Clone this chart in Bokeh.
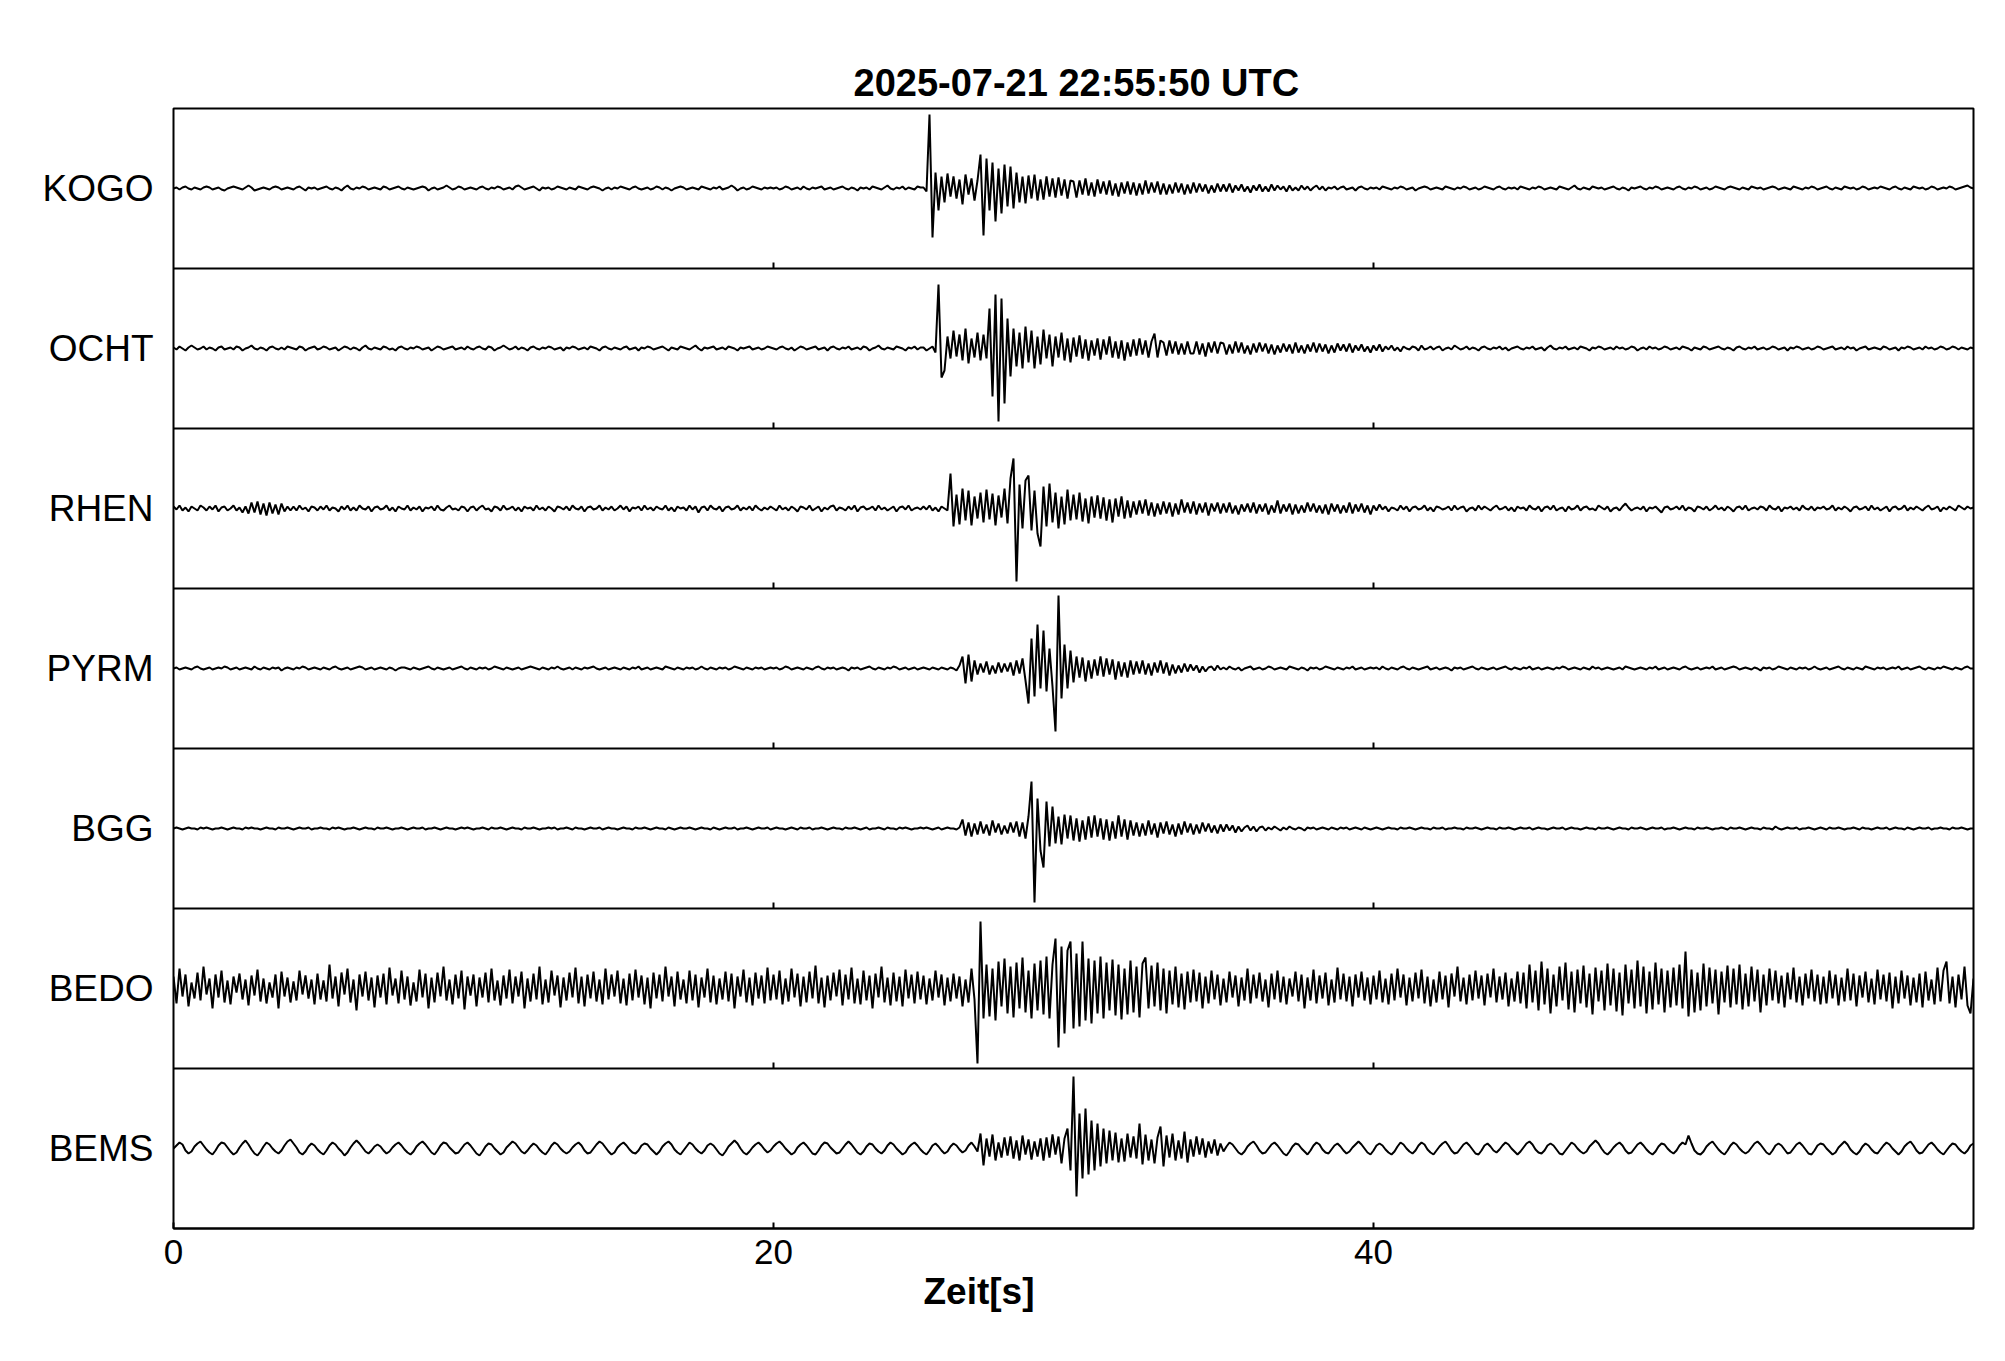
from bokeh.plotting import figure
from bokeh.models import Range1d, FixedTicker, Span, Title
from bokeh.embed import file_html
from bokeh.resources import INLINE
import numpy as np

TITLE = "2025-07-21  22:55:50 UTC"
XLABEL = "Zeit[s]"
STATIONS = ["KOGO", "OCHT", "RHEN", "PYRM", "BGG", "BEDO", "BEMS"]
X_TICKS = [0, 20, 40]
T_MAX = 60
DT = 0.1          # seconds between samples
PANEL_UNITS = 160  # amplitude units spanning one panel's height

KOGO = [
0,1,-1,1,2,0,-1,1,0,-1, 1,2,1,-1,0,1,-1,-2,0,1, 2,1,0,-1,1,3,1,-2,-1,0, 1,0,-1,1,2,1,-1,0,1,0, -1,1,2,0,-2,1,0,1,-1,0,
1,2,0,-1,1,0,-2,1,3,0, -1,1,0,2,1,-1,0,1,0,-1, 2,1,-1,0,1,2,0,-1,1,0, -1,0,1,2,1,-2,0,1,-1,0, 1,3,1,-1,0,2,1,-1,0,1,
0,-1,1,2,0,-1,1,0,2,1, -1,0,1,-1,2,3,1,-1,0,1, 2,0,-2,1,0,1,-1,0,2,1, 0,-1,1,0,-1,2,1,0,-1,1, 2,1,0,-2,0,1,-1,1,0,2,
1,0,-1,1,2,0,-1,0,1,-1, 0,2,1,-1,1,0,-2,0,1,2, 1,-1,0,1,0,-1,2,1,0,-1, 1,0,2,-1,0,1,3,1,-2,0, 1,-1,0,2,1,0,-1,1,0,1,
0,1,-1,0,2,1,-1,0,1,-1, 2,0,-1,1,0,1,2,-1,0,1, -1,0,1,2,0,-1,1,0,-2,1, 0,1,-1,2,1,0,-1,1,3,0, -1,1,0,2,-1,1,0,-1,2,1,
1,-3,74,-49,16,-22,12,-14,15,-8, 12,-10,9,-16,14,-6,10,-12,8,34, -47,30,-22,26,-33,20,-25,24,-18,22, -20,16,-14,12,-15,13,-10,14,-12,9, -11,12,-8,10,-9,11,-7,9,-10,8,
7,-9,8,-6,10,-7,6,-8,9,-5, 7,-6,8,-7,5,-8,6,-5,7,-6, 6,-7,5,-6,8,-5,6,-4,7,-6, 5,-6,4,-5,6,-4,5,-6,4,-5, 6,-4,5,-3,4,-5,3,-4,5,-3,
4,-3,5,-4,3,-2,4,-3,2,-4, 3,-2,4,-3,2,-3,4,-2,3,-1, 2,-3,3,-2,1,-2,3,-1,2,-2, 1,3,-1,2,-2,1,0,2,-1,1, 2,-1,0,1,-2,1,2,0,-1,1,
0,1,-1,2,1,0,-1,1,0,2, 1,-1,0,1,-2,0,1,2,1,-1, 0,1,0,-1,2,1,0,-1,1,0, 2,1,-1,0,1,-1,0,2,1,0, -1,1,2,0,-1,1,0,1,-1,2,
1,0,-1,1,0,2,1,-1,0,1, 0,-1,2,1,0,-1,1,3,0,-1, 1,0,-1,2,1,0,1,-1,0,1, 2,0,-1,1,0,-2,1,0,1,2, 0,-1,1,0,2,1,-1,0,1,0,
-1,1,2,0,-1,1,0,2,1,-1, 0,1,-1,0,2,1,0,-1,1,2, 1,0,-1,1,0,-1,2,1,0,1, -1,0,1,2,1,-1,0,1,0,-1, 2,1,0,-1,1,0,2,1,-1,0,
1,2,0,-1,1,0,-1,2,1,0, 1,-1,0,2,1,-1,0,1,0,2, 1,0,-1,1,2,0,-1,1,0,-1, 2,1,0,1,-1,0,2,1,-1,0, 1,0,2,1,-1,0,1,2,3,1,
0]

OCHT = [
1,-1,2,0,-2,1,3,1,-1,0, 2,-1,1,0,-2,1,2,-1,0,1, -1,2,1,-2,0,1,3,0,-1,1, 0,-2,1,2,0,-1,1,-1,2,1, 0,-1,2,1,-2,0,1,2,-1,0,
2,1,-1,0,1,-2,0,2,1,-1, 1,0,-2,1,3,0,-1,1,0,-1, 2,1,-1,0,-2,1,2,0,-1,1, 0,2,1,-1,0,1,-2,0,2,1, -1,0,1,2,-1,0,1,-1,2,0,
-1,1,2,0,-1,2,1,-2,0,1, 3,1,-1,0,2,-1,1,0,-2,1, 2,0,-1,1,0,2,1,-1,0,1, -2,1,0,2,1,-1,0,1,-1,2, 1,0,-2,1,2,0,-1,1,0,-1,
1,2,-1,0,1,-2,1,0,2,1, -1,0,1,2,0,-2,1,0,-1,2, 1,0,-1,1,3,0,-2,1,0,1, 2,-1,0,1,-1,2,1,0,-2,1, 0,1,2,-1,0,1,-1,0,2,1,
0,-1,1,2,0,-1,1,-2,0,2, 1,-1,0,1,2,-1,0,1,-2,1, 2,0,-1,1,0,2,-1,0,1,-1, 2,1,-2,0,1,3,0,-1,1,0, -1,2,1,0,-2,1,0,2,-1,1,
1,-2,0,2,-4,64,-29,-22,12,-10, 18,-8,14,-12,20,-15,10,-9,16,-12, 14,-10,40,-48,54,-73,50,-55,30,-28, 20,-18,16,-20,22,-14,18,-20,12,-16, 19,-10,14,-18,12,-9,16,-12,10,-14,
11,-8,13,-10,9,-12,8,-7,10,-11, 9,-6,12,-9,7,-10,8,-12,6,-8, 9,-7,10,-6,8,-9,7,15,-9,8, 6,-7,8,-5,7,-6,5,-6,7,-5, -5,7,-6,5,-8,6,-4,7,-5,6,
5,-6,4,-5,7,-4,6,-5,3,-6, 5,-4,6,-3,5,-5,4,-6,3,-4, 5,-3,4,-5,6,-4,3,-5,4,-3, 6,-4,5,-3,4,-5,3,-4,5,-2, 4,-3,5,-4,3,-2,4,-3,2,-4,
3,-2,4,-3,2,-1,3,-2,1,-3, 2,0,-1,2,1,-2,3,-1,0,2, -1,1,2,-2,0,1,-1,3,1,-1, 0,2,-1,1,0,-2,1,2,0,-1, 1,0,2,-1,1,-2,0,1,2,0,
-1,1,0,2,-1,0,1,-2,1,3, 0,-1,1,0,2,-1,0,1,-1,2, 1,0,-2,1,0,2,1,-1,0,1, -1,2,0,1,-1,0,2,1,-2,0, 1,-1,2,0,1,-1,0,2,1,-1,
0,1,-1,2,1,0,-2,1,0,-1, 2,1,-1,0,1,2,0,-1,1,0, -2,1,2,0,-1,1,0,2,-1,0, 1,-1,0,2,1,-1,0,1,-2,1, 0,2,1,-1,0,1,-1,0,2,1,
-1,0,1,2,-1,0,1,-1,2,0, 1,-2,0,1,2,-1,0,1,0,-1, 2,1,-1,0,1,-2,1,0,2,1, -1,0,1,-1,2,0,1,-1,0,2, 1,-1,0,2,1,-1,1,0,-1,1,
0]

RHEN = [
2,-1,3,-2,1,-3,2,0,-2,3, 1,-2,2,-1,3,-3,1,2,-2,0, 3,-2,1,-4,2,-5,6,-4,7,-6, 5,-7,6,-5,4,-6,5,-3,2,-2, 2,-2,3,-1,1,-3,2,1,-2,2,
-1,3,-2,1,0,-3,2,-1,3,-2, 1,-2,3,0,-1,2,-3,1,2,-1, 0,3,-2,1,-3,2,0,-1,3,-2, 1,-1,2,-3,1,0,2,-2,3,-1, -2,1,3,-1,0,-2,2,1,-3,1,
2,-2,1,3,-1,0,-3,2,1,-2, 3,-1,0,2,-2,1,-3,2,0,1, -2,3,-1,1,-2,2,0,-3,2,1, -1,2,-2,3,0,-1,2,-3,1,2, -1,0,3,-2,1,-1,2,-2,0,3,
-1,2,-3,1,0,2,-2,3,-1,1, -2,2,0,-1,3,-2,1,-3,2,0, 1,-2,3,-1,2,-4,1,2,-2,3, 0,-1,2,-3,1,2,-1,0,3,-2, 1,-1,2,-2,3,0,-2,1,-1,2,
0,-2,3,-1,1,-2,2,0,-3,2, 1,-1,3,-2,0,2,-3,1,-1,2, 3,-2,1,0,-2,2,-1,3,-3,1, 2,-1,0,2,-2,3,-1,1,-2,0, 2,-3,1,2,-1,3,-2,0,1,-1,
2,-1,3,-2,1,-3,2,0,-2,35, -18,14,-16,20,-12,18,-17,12,-10,16, -14,19,-11,15,-17,13,-9,20,-15,30, 50,-73,24,-20,28,33,-22,18,-25,-38, 22,-18,25,-14,16,-20,12,-16,19,-12,
14,-11,16,-13,10,-15,12,-9,13,-10, 11,-12,9,-14,10,-8,12,-10,8,-9, 7,-6,8,-5,9,-7,6,-8,5,-6, 7,-5,6,-8,5,-6,9,-4,6,-5, 7,-6,5,-4,6,-7,5,-3,6,-5,
5,-4,6,-5,3,-6,4,-3,5,-4, 6,-5,4,-3,5,-6,3,-4,8,-5, 4,-3,5,-6,4,-5,3,-4,6,-3, 5,-4,3,-5,4,-6,5,-3,4,-5, 3,-4,6,-5,4,-3,5,-4,3,-6,
3,-2,4,-1,2,-3,1,0,-2,3, -1,2,-3,1,2,-1,0,3,-2,1, -3,2,1,-1,0,2,-2,3,-1,1, 2,-3,0,1,-2,3,-1,2,0,-2, 1,3,-1,0,2,-2,1,-3,2,0,
1,-2,3,0,-1,2,-3,1,2,-1, 3,-2,0,1,-3,2,-1,0,3,-2, 1,2,-1,0,-2,3,1,-1,2,-3, 0,1,-2,2,5,1,-2,0,1,-1, 2,-3,1,0,2,-1,-4,1,2,-1,
0,2,-1,3,-2,1,0,-3,2,1, -1,2,-2,0,3,-1,1,-2,2,0, -3,1,2,-1,3,-2,0,1,-1,2, 1,-2,3,0,-1,2,-3,1,0,2, -1,1,-2,3,0,-1,2,-2,1,0,
2,-1,0,3,-2,1,-1,2,0,-3, 1,2,-1,0,2,-2,3,-1,1,-2, 0,2,-3,1,2,-1,0,3,-2,1, -1,2,0,-2,1,3,-1,0,2,-3, 1,-1,2,0,-2,3,1,-1,2,0,
1]

PYRM = [
0,1,-1,0,1,0,-1,1,2,0, -1,0,1,-1,0,1,0,2,1,-1, 0,1,-1,0,1,0,-1,2,0,-1, 1,0,-1,1,0,1,-2,0,1,0, -1,1,0,2,1,-1,0,1,0,-1,
1,0,-1,1,2,0,-1,0,1,-1, 0,1,2,1,-1,0,1,-1,0,1, 0,-1,1,0,-2,0,1,1,0,-1, 1,0,-1,0,1,2,0,-1,1,0, -1,0,1,-1,0,1,2,0,-1,1,
0,-1,1,0,1,-1,0,2,1,0, -1,1,0,-1,0,1,-1,0,1,2, 1,0,-1,1,0,-1,1,0,2,0, -1,0,1,-1,1,0,-1,1,0,1, 2,0,-1,0,1,-1,0,1,0,-1,
1,0,-1,1,0,2,-1,0,1,-1, 0,1,0,-1,2,1,0,-1,1,0, -1,1,0,1,-1,0,2,0,-1,1, 0,-1,1,0,1,-1,0,2,1,0, -1,1,0,-1,1,0,1,-1,0,1,
0,1,-1,0,2,1,-1,0,1,0, -1,1,0,-1,1,2,0,-1,1,0, 1,-1,0,1,0,-2,1,0,1,-1, 0,1,2,0,-1,1,0,-1,1,0, 2,1,-1,0,1,-1,0,1,-1,0,
1,0,-1,1,0,-1,1,0,-1,1, 0,-2,3,12,-15,14,-13,8,-6,5, -4,7,-6,3,-5,6,-4,5,-3,6, -7,8,-5,10,-12,-35,30,-28,44,-20, 38,-23,20,-18,-63,73,-30,24,-20,18,
-14,12,-9,11,-13,8,-10,9,-7,12, -8,10,-6,9,-11,7,-8,6,-9,8, -6,7,-5,8,-6,5,-7,6,-4,8, -5,6,-7,4,-5,3,-4,5,-3,4, -2,3,-4,2,-3,1,2,-2,3,-1,
1,-1,2,0,-1,1,-2,0,1,2, -1,0,1,-1,0,2,1,-1,0,1, 0,-1,2,1,0,-1,1,0,-2,1, 0,1,-1,0,2,1,0,-1,1,0, -1,1,0,2,-1,0,1,-1,0,1,
0,1,-1,2,0,-1,1,0,-1,1, 2,0,-1,1,0,-1,0,1,2,-1, 0,1,-1,0,1,0,-2,1,0,1, -1,0,1,2,0,-1,1,0,-1,0, 1,-1,0,1,2,0,-1,1,0,-1,
1,0,2,-1,0,1,-1,0,1,0, -1,1,0,2,1,-1,0,1,0,-1, 1,0,-1,2,0,1,-1,0,1,0, -1,0,1,-1,2,1,0,-1,0,1, 0,-1,1,0,2,-1,0,1,-1,0,
1,0,-1,1,2,0,-1,0,1,-1, 0,1,0,2,-1,0,1,-1,0,1, 2,1,-1,0,1,0,-1,1,0,-2, 1,0,1,-1,0,2,1,0,-1,1, 0,-1,1,0,1,-1,0,2,0,-1,
0,1,-1,0,1,2,0,-1,1,0, -1,1,0,-1,2,1,0,-1,1,0, 1,-1,0,1,0,2,-1,0,1,-1, 0,1,2,0,-1,1,0,-1,1,0, 2,1,0,-1,1,0,-1,1,2,0,
0]

BGG = [
0,1,0,-1,0,1,0,0,-1,1, 0,1,0,-1,0,0,1,0,-1,0, 1,0,0,-1,1,0,1,0,0,-1, 0,1,0,0,-1,1,0,0,1,0, -1,0,1,0,0,1,-1,0,0,1,
0,0,-1,1,0,1,0,-1,0,0, 1,0,-1,0,1,0,0,-1,1,0, 0,1,0,-1,0,0,1,0,-1,0, 1,0,0,1,-1,0,0,1,0,-1, 0,1,0,0,-1,0,1,0,1,0,
-1,0,0,1,0,-1,1,0,0,1, 0,-1,0,1,0,0,-1,1,0,0, 1,0,-1,0,0,1,0,1,-1,0, 0,1,0,-1,1,0,0,-1,0,1, 0,0,1,-1,0,1,0,0,-1,0,
1,0,0,-1,1,0,0,1,0,-1, 0,1,0,0,-1,1,0,-1,0,1, 0,0,1,0,-1,0,1,0,0,-1, 1,0,-1,0,1,0,0,1,-1,0, 0,1,0,-1,0,1,0,0,1,-1,
0,1,0,0,-1,0,1,0,-1,1, 0,0,1,-1,0,0,1,0,-1,0, 1,0,0,-1,1,0,0,1,0,-1, 0,1,-1,0,0,1,0,-1,1,0, 0,-1,1,0,1,0,-1,0,0,1,
0,1,0,-1,0,1,-1,0,1,0, 0,-1,1,9,-7,6,-8,5,-6,7, -5,4,-7,8,-4,5,-6,3,-5,6, -4,7,-8,6,-10,12,47,-74,30,-22, -39,27,-18,22,-15,12,-16,14,-10,13,
-12,10,-13,8,-11,12,-9,13,-8,10, -11,9,-12,7,-10,13,-8,9,-11,8, -7,6,-8,5,-7,8,-6,5,-9,6, -5,7,-6,4,-8,5,-6,7,-4,5, -6,4,-5,6,-3,5,-4,3,-5,4,
-3,4,-2,3,-4,2,-3,1,3,-2, 2,-3,1,2,-2,1,-1,2,0,-2, 1,-1,2,0,-1,1,0,-2,1,0, 1,-1,0,1,0,-1,1,0,-1,1, 0,1,-1,0,1,0,-1,1,0,-1,
0,1,0,-1,0,1,0,0,-1,1, 0,0,1,0,-1,0,1,0,0,-1, 1,0,0,1,-1,0,0,1,0,0, -1,1,0,0,1,0,-1,0,1,0, 0,-1,1,0,0,1,0,-1,0,1,
0,0,1,-1,0,1,0,0,-1,0, 1,0,0,1,-1,0,1,0,0,-1, 0,1,0,0,-1,1,0,0,1,0, -1,0,1,0,0,-1,1,0,0,1, 0,-1,0,1,0,0,1,-1,0,0,
1,0,-1,0,1,0,0,-1,1,0, 0,1,0,-1,0,0,1,0,-1,1, 0,0,1,0,-1,0,1,0,0,-1, 1,0,0,-1,2,0,-1,0,1,0, 0,1,-1,0,0,1,0,-1,0,1,
0,-1,1,0,0,1,0,-1,0,0, 1,0,-1,1,0,0,-1,0,1,0, 0,1,-1,0,1,0,0,-1,1,0, -1,0,1,0,0,1,-1,0,0,1, 0,0,-1,1,0,0,1,0,-1,0,
0]

BEDO = [
12,-15,20,-8,14,-18,6,-10,16,-12, 22,-6,10,-20,14,-9,18,-14,8,-16, 12,-4,15,-11,9,-17,13,-7,19,-13, 10,-15,6,-9,14,-20,17,-8,11,-14, 7,-12,18,-6,13,-10,9,-16,15,-11,
8,-13,24,-10,12,-18,16,-6,20,-14, 9,-22,14,-8,17,-12,11,-19,13,-9, 15,-16,21,-7,10,-15,18,-11,12,-17, 6,-13,19,-9,15,-20,11,-14,16,-8, 22,-12,9,-16,14,-10,18,-21,12,-7,
14,-18,11,-9,16,-14,20,-12,8,-17, 13,-10,19,-15,12,-8,17,-20,10,-13, 15,-11,22,-16,9,-14,18,-7,13,-19, 11,-12,16,-9,21,-15,12,-18,14,-10, 17,-13,9,-16,20,-11,14,-8,18,-15,
10,-17,15,-12,19,-9,13,-16,11,-20, 16,-10,14,-13,22,-8,12,-18,17,-11, 9,-15,18,-12,14,-19,11,-9,20,-14, 13,-16,10,-11,17,-13,15,-20,12,-8, 19,-14,11,-17,16,-10,13,-15,21,-12,
14,-11,18,-16,10,-13,20,-9,15,-18, 12,-14,17,-10,23,-15,11,-19,13,-12, 16,-8,19,-17,14,-11,21,-15,10,-16, 18,-12,13,-20,15,-9,22,-14,11,-17, 16,-13,12,-18,19,-10,14,-15,17,-11,
13,-16,10,-12,18,-9,14,-17,11,-13, 15,-10,12,-18,9,-14,20,-11,-75,67, -30,24,-28,20,-32,27,-18,30,-25,22, -29,26,-20,31,-24,18,-30,25,-22,28, -26,32,-30,24,50,-59,42,-45,38,47,
-40,35,-38,47,-32,30,-35,28,-25,32, -30,26,-22,29,-27,24,-31,20,-26,28, -24,22,-29,25,31,-20,23,-18,26,-22, 20,-25,18,-16,22,-19,15,-21,17,-14, 19,-13,16,-20,12,-15,18,-11,14,-17,
10,-14,17,-9,13,-18,11,-12,20,-15, 14,-10,16,-13,9,-19,15,-11,18,-14, 12,-16,10,-8,17,-13,14,-20,11,-12, 19,-15,13,-10,16,-17,9,-14,21,-11, 15,-13,12,-18,14,-9,17,-12,11,-16,
13,-11,18,-14,10,-16,15,-12,20,-9, 14,-17,11,-13,16,-10,19,-15,12,-18, 9,-14,17,-11,13,-19,15,-8,22,-13, 11,-16,14,-12,18,-10,13,-17,15,-9, 20,-14,12,-11,16,-18,10,-13,17,-15,
16,-20,24,-14,18,-22,27,-16,20,-25, 14,-18,22,-12,26,-21,17,-24,19,-15, 23,-19,15,-26,21,-13,18,-22,25,-17, 20,-23,16,-27,24,-15,19,-20,28,-18, 22,-25,17,-21,26,-16,20,-24,18,-19,
21,-17,24,-20,37,-28,19,-24,16,-22, 25,-18,21,-15,19,-26,17,-14,23,-19, 20,-16,24,-21,15,-18,22,-13,19,-24, 14,-17,20,-12,18,-15,13,-19,16,-11, 21,-14,12,-17,15,-10,19,-13,14,-16,
12,-15,18,-10,14,-17,11,-13,20,-12, 15,-18,13,-9,17,-14,10,-16,19,-11, 14,-13,16,-20,12,-15,18,-10,13,-17, 11,-14,15,-19,17,-12,9,-16,21,-13, 18,27,-15,12,-19,14,-11,22,-17,-25,
10]

BEMS = [
0,3,6,4,-2,-5,-3,2,5,7, 3,-1,-4,-6,-2,3,6,5,1,-3, -6,-4,1,5,8,4,-1,-5,-7,-3, 2,6,4,0,-3,-5,-2,3,7,9, 5,1,-4,-6,-3,2,5,3,-1,-4,
-6,-2,3,6,4,0,-3,-7,-4,1, 5,8,5,1,-3,-5,-2,2,4,2, -2,-5,-3,1,4,6,3,-1,-4,-6, -3,2,5,7,4,0,-4,-6,-2,3, 6,5,1,-2,-5,-4,0,4,6,3,
-1,-5,-7,-3,2,5,4,0,-3,-6, -4,1,4,7,5,1,-3,-5,-2,2, 5,3,-1,-4,-6,-2,3,6,4,0, -3,-5,-3,1,4,6,3,-2,-5,-4, 0,4,7,5,1,-3,-6,-4,1,4,
6,3,-1,-4,-5,-2,3,5,4,0, -3,-6,-3,2,5,7,4,-1,-4,-6, -2,2,6,4,0,-3,-5,-2,3,5, 3,-1,-5,-7,-3,2,5,8,5,0, -4,-6,-3,1,4,6,3,-1,-4,-2,
2,5,7,4,0,-3,-6,-4,1,4, 6,3,-1,-5,-6,-2,3,6,5,1, -2,-5,-4,0,4,7,4,0,-4,-6, -3,2,5,4,0,-3,-5,-2,3,6, 4,0,-3,-6,-4,1,4,6,3,-1,
-4,-6,-2,3,5,2,-2,-5,-3,2, 5,3,-1,-4,-2,3,6,2,-3,15, -17,10,-8,14,-12,6,-9,11,-7,12, -10,8,-12,13,-6,9,-11,7,-8,10, -12,11,-9,14,-6,12,-15,10,20,-22,
72,-48,35,-30,40,-26,28,-22,25,-18, 20,-15,18,-12,16,-14,10,-13,15,-9, 12,-10,25,-16,14,-12,9,-15,11,22, -18,13,-9,15,-12,8,-10,17,-14,9, -8,12,-6,10,-9,7,-5,9,-7,5,
-3,2,6,4,0,-4,-6,-3,2,5, 7,3,-2,-5,-4,0,4,6,3,-1, -5,-7,-3,2,5,4,0,-3,-6,-2, 3,6,4,-1,-4,-5,-1,3,5,2, -2,-5,-3,1,4,7,4,0,-4,-6,
-2,3,5,3,-1,-4,-6,-3,2,6, 4,0,-3,-5,-2,3,6,4,-1,-4, -6,-2,2,5,7,3,-2,-5,-4,0, 4,6,3,-1,-5,-6,-2,3,5,2, -2,-4,-1,3,6,4,0,-3,-6,-3,
1,5,7,4,-1,-4,-5,-2,3,5, 3,-1,-5,-6,-2,2,6,4,0,-3, -5,-3,2,5,8,5,0,-4,-6,-3, 1,4,6,3,-2,-5,-4,0,4,6, 3,-1,-4,-6,-3,2,5,4,0,-3,
-5,-2,3,6,4,13,5,-2,-5,-6, -3,2,5,7,3,-1,-4,-6,-2,3, 6,4,0,-3,-5,-3,1,5,7,4, 0,-4,-6,-2,3,5,3,-1,-5,-4, 0,4,6,3,-1,-5,-6,-2,3,5,
4,0,-3,-6,-4,1,4,7,4,-1, -4,-6,-3,2,5,3,-1,-4,-5,-1, 3,6,4,0,-3,-6,-3,2,5,7, 3,-2,-5,-4,0,4,6,3,-1,-4, -6,-2,2,5,4,0,-3,-5,-2,3,
5]

TRACES = [KOGO, OCHT, RHEN, PYRM, BGG, BEDO, BEMS]

FONT = "Liberation Sans"
n = len(STATIONS)
centers = [n - 0.5 - i for i in range(n)]

p = figure(width=1997, height=1348, output_backend="svg", toolbar_location=None,
           x_range=Range1d(0, T_MAX), y_range=Range1d(0, n),
           min_border_left=173, min_border_right=24, min_border_top=108,
           min_border_bottom=120)

p.title.text = TITLE
p.title.align = "left"
p.title.offset = 680
p.title.text_font = FONT
p.title.text_font_size = "38px"
p.title.text_font_style = "bold"
p.title.text_color = "black"

p.xgrid.visible = False
p.ygrid.visible = False
p.outline_line_color = "black"
p.outline_line_width = 2
p.background_fill_color = "white"
p.border_fill_color = "white"

# x axis
p.xaxis.ticker = FixedTicker(ticks=X_TICKS)
p.xaxis.major_tick_in = 6
p.xaxis.major_tick_out = 0
p.xaxis.minor_tick_line_color = None
p.xaxis.major_tick_line_width = 2
p.xaxis.axis_line_width = 2
p.xaxis.major_label_text_font = FONT
p.xaxis.major_label_text_font_size = "35px"
p.xaxis.major_label_text_color = "black"
p.xaxis.major_label_standoff = 11

# axis title, placed where the reference shows it
p.add_layout(Title(text=XLABEL, align="left", offset=750, text_font=FONT,
                   text_font_size="37px", text_font_style="bold",
                   text_color="black", standoff=4), "below")

# y axis: station names at trace centres
p.yaxis.ticker = FixedTicker(ticks=centers)
p.yaxis.major_label_overrides = {c: s for c, s in zip(centers, STATIONS)}
p.yaxis.major_tick_line_color = None
p.yaxis.minor_tick_line_color = None
p.yaxis.axis_line_color = None
p.yaxis.major_label_text_font = FONT
p.yaxis.major_label_text_font_size = "37px"
p.yaxis.major_label_text_color = "black"
p.yaxis.major_label_standoff = 14

# panel separators and their inner ticks
tick_len = 6.0 / 160.0
inner_x, inner_y0, inner_y1 = [], [], []
for b in range(1, n):
    p.add_layout(Span(location=b, dimension="width", line_color="black", line_width=2))
    for tx in X_TICKS[1:]:
        inner_x.append(tx)
        inner_y0.append(b)
        inner_y1.append(b + tick_len)
p.segment(x0=inner_x, y0=inner_y0, x1=inner_x, y1=inner_y1, line_color="black", line_width=2)

for c, tr in zip(centers, TRACES):
    v = np.array(tr, dtype=float)
    t = np.arange(len(v)) * DT
    p.line(t, c + v / PANEL_UNITS, line_color="black", line_width=2)

open("out.html", "w").write(file_html(p, INLINE))
